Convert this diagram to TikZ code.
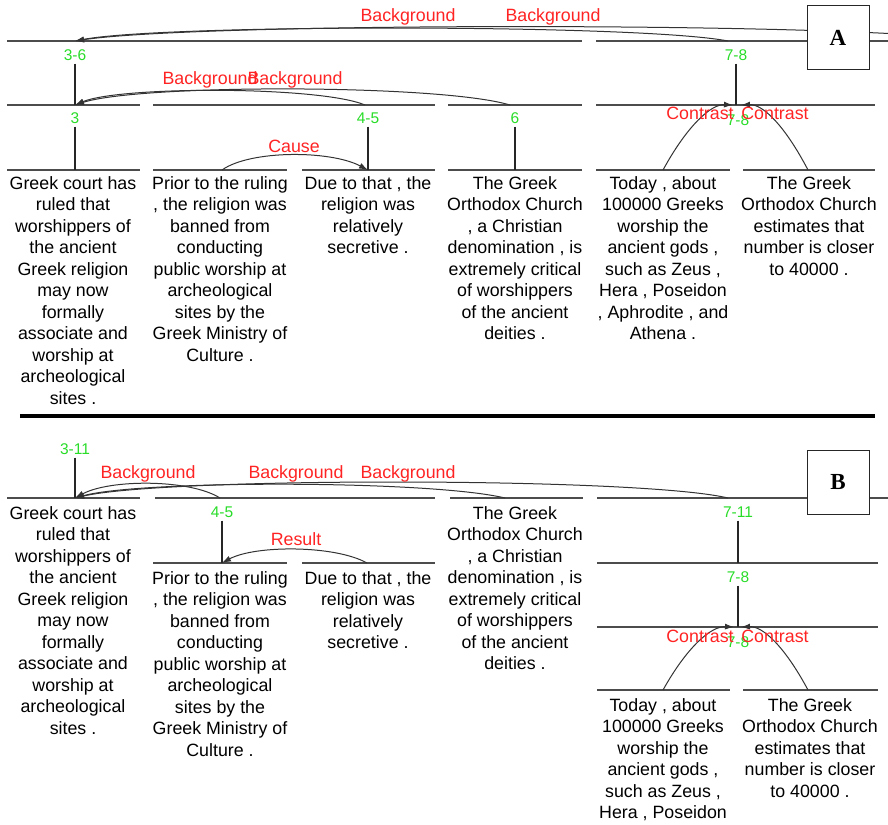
\documentclass[tikz,border=0pt]{standalone}
\usepackage{fontspec}
\setmainfont{Liberation Sans}
\newfontfamily\panelfont{Liberation Serif}
\usetikzlibrary{positioning,arrows.meta}
\definecolor{relred}{RGB}{255,35,35}
\definecolor{spangreen}{RGB}{40,220,40}

\begin{document}
\begin{tikzpicture}[x=1pt,y=-1pt,
    edu/.style={anchor=north, inner sep=0pt, align=center, font=\fontsize{17.8}{21.5}\selectfont},
    rel/.style={text=relred, inner sep=0pt, font=\fontsize{17.8}{20}\selectfont},
    span/.style={text=spangreen, inner sep=0pt, font=\fontsize{15.5}{18}\selectfont},
    seg/.style={draw=black!70, line width=1.4pt},
    stem/.style={draw=black!85, line width=1.1pt, shorten <=3pt},
    relarc/.style={draw=black!80, line width=1pt, -{Latex[length=9pt,width=6pt]}},
    panel/.style={draw=black!85, line width=1pt, fill=white, minimum width=62pt, minimum height=64pt, font=\panelfont\bfseries\fontsize{23}{23}\selectfont},]
    \useasboundingbox (0,0) rectangle (888,824);
    \clip (0,0) rectangle (888,824);

    % ---------- panel A ----------
    % span lines
    \draw[seg] (7,41) -- (582,41) (596,41) -- (888,41);
    \draw[seg] (7,105) -- (140,105) (153,105) -- (435,105) (448,105) -- (582,105) (596,105) -- (875,105);
    \draw[seg] (7,170) -- (140,170) (153,170) -- (287,170) (302,170) -- (435,170)
               (448,170) -- (582,170) (596,170) -- (730,170) (743,170) -- (875,170);
    % points
    \coordinate (a36)  at (75,41);
    \coordinate (a78)  at (728,41);
    \coordinate (aoff) at (980,41);
    \coordinate (a3)   at (75,105);
    \coordinate (a45)  at (365,105);
    \coordinate (a6)   at (510,105);
    \coordinate (a78n) at (736,105);
    \coordinate (c5)   at (733,105);
    \coordinate (c6)   at (741,105);
    \coordinate (e1)   at (75,170);
    \coordinate (e2)   at (222,170);
    \coordinate (e3)   at (368,170);
    \coordinate (e4)   at (515,170);
    \coordinate (e5)   at (663,170);
    \coordinate (e6)   at (808,170);
    % span labels
    \node[span] (l36)  at (75,55)   {3-6};
    \node[span] (l78)  at (736,55)  {7-8};
    \node[span] (l3)   at (75,118)  {3};
    \node[span] (l45)  at (368,118) {4-5};
    \node[span] (l6)   at (515,118) {6};
    \node[span] (l78b) at (738,120) {7-8};
    \draw[stem] (l36) -- (a3);
    \draw[stem] (l78) -- (a78n);
    \draw[stem] (l3) -- (e1);
    \draw[stem] (l45) -- (e3);
    \draw[stem] (l6) -- (e4);
    % relations
    \draw[relarc] (aoff) .. controls (860,22) and (200,22) .. (a36);
    \draw[relarc] (a78) .. controls (640,24) and (165,24) .. (a36);
    \draw[relarc] (a45) .. controls (320,86) and (120,86) .. (a3);
    \draw[relarc] (a6) .. controls (440,84) and (140,84) .. (a3);
    \draw[relarc] (e2) .. controls (250,150) and (330,150) .. (e3);
    \draw[relarc] (e5) .. controls (687,126) and (711,104) .. (c5);
    \draw[relarc] (e6) .. controls (785,126) and (763,104) .. (c6);
    \node[rel] (ra1) at (408,17)  {Background};
    \node[rel] (ra2) at (553,17)  {Background};
    \node[rel] (ra3) at (210,80)  {Background};
    \node[rel] (ra4) at (295,80)  {Background};
    \node[rel] (ra5) at (294,146) {Cause};
    \node[rel] (ra6) at (700,113) {Contrast};
    \node[rel] (ra7) at (775,113) {Contrast};
    % texts
    \node[edu] (ta1) at (73,176)  {Greek court has\\ruled that\\worshippers of\\the ancient\\Greek religion\\may now\\formally\\associate and\\worship at\\archeological\\sites .};
    \node[edu] (ta2) at (220,176) {Prior to the ruling\\, the religion was\\banned from\\conducting\\public worship at\\archeological\\sites by the\\Greek Ministry of\\Culture .};
    \node[edu] (ta3) at (368,176) {Due to that , the\\religion was\\relatively\\secretive .};
    \node[edu] (ta4) at (515,176) {The Greek\\Orthodox Church\\, a Christian\\denomination , is\\extremely critical\\of worshippers\\of the ancient\\deities .};
    \node[edu] (ta5) at (663,176) {Today , about\\100000 Greeks\\worship the\\ancient gods ,\\such as Zeus ,\\Hera , Poseidon\\, Aphrodite , and\\Athena .};
    \node[edu] (ta6) at (809,176) {The Greek\\Orthodox Church\\estimates that\\number is closer\\to 40000 .};
    \node[panel] (pa) at (838,38) {A};

    % separator
    \draw[line width=3.5pt] (20,416) -- (875,416);

    % ---------- panel B ----------
    % span lines
    \draw[seg] (7,498) -- (140,498) (155,498) -- (435,498) (450,498) -- (583,498) (597,498) -- (888,498);
    \draw[seg] (153,563) -- (287,563) (302,563) -- (435,563) (597,563) -- (878,563);
    \draw[seg] (597,627) -- (878,627);
    \draw[seg] (597,690) -- (730,690) (743,690) -- (878,690);
    % points
    \coordinate (b311)  at (75,498);
    \coordinate (b45t)  at (220,498);
    \coordinate (b6)    at (505,498);
    \coordinate (b711)  at (728,498);
    \coordinate (b45)   at (222,563);
    \coordinate (b5)    at (367,563);
    \coordinate (b711n) at (738,563);
    \coordinate (b78n)  at (738,627);
    \coordinate (d5)    at (734,627);
    \coordinate (d6)    at (741,627);
    \coordinate (f5)    at (663,690);
    \coordinate (f6)    at (808,690);
    % span labels
    \node[span] (m311) at (75,449)  {3-11};
    \node[span] (m45)  at (222,512) {4-5};
    \node[span] (m711) at (738,512) {7-11};
    \node[span] (m78)  at (738,577) {7-8};
    \node[span] (m78b) at (738,642) {7-8};
    \draw[stem] (m311) -- (b311);
    \draw[stem] (m45) -- (b45);
    \draw[stem] (m711) -- (b711n);
    \draw[stem] (m78) -- (b78n);
    % relations
    \draw[relarc] (b45t) .. controls (190,479) and (110,479) .. (b311);
    \draw[relarc] (b6) .. controls (430,480) and (140,480) .. (b311);
    \draw[relarc] (b711) .. controls (640,477) and (165,477) .. (b311);
    \draw[relarc] (b5) .. controls (335,545) and (255,545) .. (b45);
    \draw[relarc] (f5) .. controls (687,647) and (711,626) .. (d5);
    \draw[relarc] (f6) .. controls (785,647) and (763,626) .. (d6);
    \node[rel] (rb1) at (148,474) {Background};
    \node[rel] (rb2) at (296,474) {Background};
    \node[rel] (rb3) at (408,474) {Background};
    \node[rel] (rb4) at (296,539) {Result};
    \node[rel] (rb5) at (700,636) {Contrast};
    \node[rel] (rb6) at (775,636) {Contrast};
    % texts
    \node[edu] (tb1) at (73,506)  {Greek court has\\ruled that\\worshippers of\\the ancient\\Greek religion\\may now\\formally\\associate and\\worship at\\archeological\\sites .};
    \node[edu] (tb2) at (220,571) {Prior to the ruling\\, the religion was\\banned from\\conducting\\public worship at\\archeological\\sites by the\\Greek Ministry of\\Culture .};
    \node[edu] (tb3) at (368,571) {Due to that , the\\religion was\\relatively\\secretive .};
    \node[edu] (tb4) at (515,506) {The Greek\\Orthodox Church\\, a Christian\\denomination , is\\extremely critical\\of worshippers\\of the ancient\\deities .};
    \node[edu] (tb5) at (663,698) {Today , about\\100000 Greeks\\worship the\\ancient gods ,\\such as Zeus ,\\Hera , Poseidon};
    \node[edu] (tb6) at (810,698) {The Greek\\Orthodox Church\\estimates that\\number is closer\\to 40000 .};
    \node[panel] (pb) at (838,482) {B};
\end{tikzpicture}
\end{document}
